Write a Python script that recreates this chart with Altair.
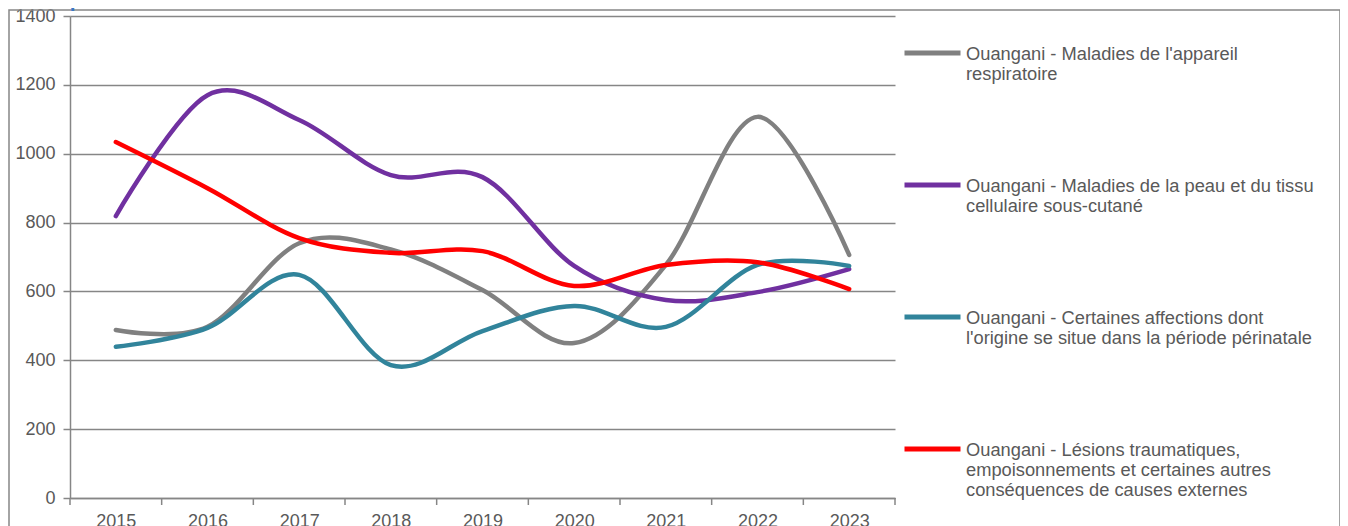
import json
import altair as alt
import pandas as pd

years = [2015, 2016, 2017, 2018, 2019, 2020, 2021, 2022, 2023]
series_names = [
    "Ouangani - Maladies de l'appareil respiratoire",
    "Ouangani - Maladies de la peau et du tissu cellulaire sous-cutané",
    "Ouangani - Certaines affections dont l'origine se situe dans la période périnatale",
    "Ouangani - Lésions traumatiques, empoisonnements et certaines autres conséquences de causes externes",
]
legend_lines = [
    ["Ouangani - Maladies de l'appareil", "respiratoire"],
    ["Ouangani - Maladies de la peau et du tissu", "cellulaire sous-cutané"],
    ["Ouangani - Certaines affections dont", "l'origine se situe dans la période périnatale"],
    ["Ouangani - Lésions traumatiques,", "empoisonnements et certaines autres", "conséquences de causes externes"],
]
colors = ["#808080", "#7030a0", "#31849b", "#ff0000"]

respiratoire = [488, 497, 740, 722, 604, 450, 677, 1107, 706]
peau = [819, 1170, 1098, 938, 932, 674, 575, 598, 665]
perinatale = [439, 494, 648, 386, 485, 558, 497, 677, 674]
lesions = [1034, 900, 755, 712, 717, 616, 677, 685, 607]

title_text = "sur la période 2015 à 2023"
y_ticks = [0, 200, 400, 600, 800, 1000, 1200, 1400]

rows = []
for name, vals in zip(series_names, [respiratoire, peau, perinatale, lesions]):
    for yr, v in zip(years, vals):
        rows.append({"annee": yr, "serie": name, "valeur": v})
df = pd.DataFrame(rows)

bounds = pd.DataFrame({"b": [y - 0.5 for y in years] + [years[-1] + 0.5]})

W, H = 825, 482
label_expr = json.dumps(dict(zip(series_names, legend_lines)), ensure_ascii=False) + "[datum.label]"

xscale = alt.Scale(domain=[years[0] - 0.5, years[-1] + 0.5], nice=False, zero=False)
yscale = alt.Scale(domain=[0, 1400], nice=False)
cscale = alt.Scale(domain=series_names, range=colors)

legend = alt.Legend(
    title=None, orient="none", legendX=832, legendY=13,
    symbolType="M-1,-0.23L1,-0.23", symbolSize=3136, symbolStrokeWidth=5,
    labelBaseline="alphabetic", labelExpr=label_expr, labelFontSize=18.3,
    labelColor="#595959", labelFont="Liberation Sans", labelLimit=600,
    labelOffset=3, rowPadding=77, padding=0,
)

layers = []
for name in series_names:
    layers.append(
        alt.Chart(df).transform_filter(alt.datum.serie == name)
        .mark_line(interpolate="cardinal", strokeWidth=4.5, strokeCap="round")
        .encode(
            x=alt.X("annee:Q", scale=xscale,
                    axis=alt.Axis(values=years, format="d", ticks=False, grid=False,
                                  labelPadding=14, title=None, labelFlush=False)),
            y=alt.Y("valeur:Q", scale=yscale,
                    axis=alt.Axis(values=y_ticks, format="d", tickSize=7, labelPadding=8,
                                  grid=True, title=None)),
            color=alt.Color("serie:N", scale=cscale, legend=legend),
        )
    )

ticks = alt.Chart(bounds).mark_rule(color="#868686", strokeWidth=1.5).encode(
    x=alt.X("b:Q", scale=xscale), y=alt.value(H), y2=alt.value(H + 7)
)

one = pd.DataFrame({"t": [title_text]})
frame = alt.Chart(one).mark_rect(filled=False, stroke="#868686", strokeWidth=1.5).encode(
    x=alt.value(-61), x2=alt.value(1270), y=alt.value(-6), y2=alt.value(900)
)
title = alt.Chart(one).mark_text(
    align="left", baseline="alphabetic", font="Liberation Sans", fontSize=21,
    fontWeight="bold", color="#3a78c4"
).encode(x=alt.value(-62), y=alt.value(-9), text="t:N")

chart = alt.layer(ticks, *layers, frame, title).properties(
    width=W, height=H,
    autosize=alt.AutoSizeParams(type="none"),
    padding={"left": 62, "top": 8, "right": 445, "bottom": 28},
).configure_view(stroke=None).configure_axis(
    labelFont="Liberation Sans", labelFontSize=18, labelColor="#595959",
    domainColor="#868686", gridColor="#868686", tickColor="#868686",
    domainWidth=1.5, gridWidth=1.3, tickWidth=1.5,
)

chart.save("out.html", embed_options={"renderer": "svg", "actions": False})
